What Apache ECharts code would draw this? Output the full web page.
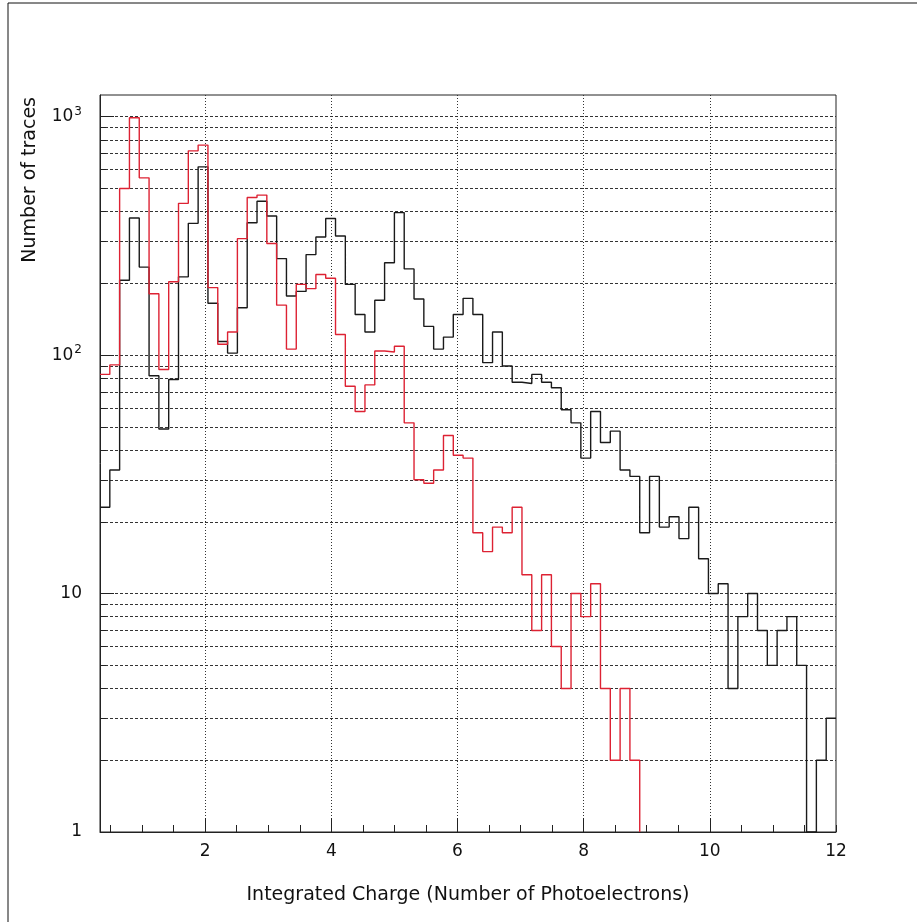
<!DOCTYPE html>
<html>
<head>
<meta charset="utf-8">
<script src="https://cdn.jsdelivr.net/npm/echarts@6/dist/echarts.min.js"></script>
<style>
  html, body { margin: 0; padding: 0; background: #fff; }
  #chart { width: 917px; height: 922px; }
</style>
</head>
<body>
<div id="chart"></div>
<script>
// 75 equal bins between xMin and xMax
const xMin = 0.3333
const xMax = 12

const blackCounts = [
  23, 33, 206, 376, 234, 82, 49, 79, 213, 357,
  616, 165, 114, 102, 158, 359, 442, 383, 254, 177,
  185, 264, 313, 374, 316, 198, 148, 125, 170, 244,
  396, 230, 172, 132, 106, 119, 148, 173, 148, 93,
  125, 90, 77, 76, 83, 77, 73, 59, 52, 37,
  58, 43, 48, 33, 31, 18, 31, 19, 21, 17,
  23, 14, 10, 11, 4, 8, 10, 7, 5, 7,
  8, 5, 0, 2, 3,
]

const redCounts = [
  83, 91, 500, 990, 554, 181, 87, 203, 433, 719,
  760, 192, 111, 125, 308, 458, 469, 294, 162, 106,
  198, 190, 218, 210, 122, 74, 58, 75, 104, 103,
  109, 52, 30, 29, 33, 46, 38, 37, 18, 15,
  19, 18, 23, 12, 7, 12, 6, 4, 10, 8,
  11, 4, 2, 4, 2, 0, 0, 0, 0, 0,
  0, 0, 0, 0, 0, 0, 0, 0, 0, 0,
  0, 0, 0, 0, 0,
]

const xMinorTicks = [0.5, 1, 1.5, 2, 2.5, 3, 3.5, 4, 4.5, 5, 5.5, 6, 6.5, 7, 7.5, 8, 8.5, 9, 9.5, 10, 10.5, 11, 11.5, 12]
const xMajorTicks = [2, 4, 6, 8, 10]
const xLabels = [2, 4, 6, 8, 10, 12]

const yGridValues = [
  2, 3, 4, 5, 6, 7, 8, 9, 10,
  20, 30, 40, 50, 60, 70, 80, 90, 100,
  200, 300, 400, 500, 600, 700, 800, 900, 1000,
]
const yMajorTicks = [10, 100, 1000]
const yLabels = [1, 10, 100, 1000]

const FONT = 'DejaVu Sans'

// turn bin contents into a stepped outline; empty bins sit on the axis floor,
// trailing empty bins are dropped after the last edge
function stepPoints(counts) {
  const w = (xMax - xMin) / counts.length
  let last = counts.length - 1
  while (last > 0 && counts[last] === 0) last--
  const pts = []
  for (let i = 0; i <= last; i++) {
    const v = Math.max(counts[i], 1)
    pts.push([xMin + i * w, v], [xMin + (i + 1) * w, v])
  }
  if (last < counts.length - 1) pts.push([xMin + (last + 1) * w, 1])
  return pts
}

const chart = echarts.init(document.getElementById('chart'), null, { renderer: 'canvas' })

chart.setOption({
  animation: false,
  backgroundColor: '#fff',
  grid: {
    left: 100,
    right: 81,
    top: 95,
    bottom: 90,
    show: true,
    borderColor: '#222',
    borderWidth: 1,
    backgroundColor: 'transparent',
  },
  graphic: [
    {
      type: 'rect',
      shape: { x: 8, y: 3, width: 1000, height: 1000 },
      style: { fill: 'none', stroke: '#111', lineWidth: 1 },
      silent: true,
    },
    {
      type: 'text',
      x: 30,
      y: 97,
      rotation: Math.PI / 2,
      style: {
        text: 'Number of traces',
        fontFamily: FONT,
        fontSize: 19,
        fill: '#111',
        align: 'right',
        verticalAlign: 'middle',
      },
    },
  ],
  xAxis: [
    {
      type: 'value',
      min: xMin,
      max: xMax,
      position: 'bottom',
      axisLine: { lineStyle: { color: '#222', width: 1 } },
      axisTick: { inside: true, length: 7, customValues: xMinorTicks, lineStyle: { color: '#222' } },
      axisLabel: { show: false },
      splitLine: { show: false },
    },
    {
      type: 'value',
      min: xMin,
      max: xMax,
      position: 'bottom',
      name: 'Integrated Charge (Number of Photoelectrons)',
      nameLocation: 'middle',
      nameGap: 54,
      nameTextStyle: { fontFamily: FONT, fontSize: 19, color: '#111' },
      axisLine: { show: false },
      axisTick: { inside: true, length: 14, customValues: xMajorTicks, lineStyle: { color: '#222' } },
      axisLabel: {
        customValues: xLabels,
        margin: 11,
        fontFamily: FONT,
        fontSize: 17,
        color: '#111',
      },
      splitLine: { show: true, lineStyle: { color: '#333', type: [1, 2], width: 1 } },
    },
  ],
  yAxis: [
    {
      type: 'log',
      logBase: 10,
      min: 1,
      max: 1233,
      position: 'left',
      axisLine: { show: true, lineStyle: { color: '#222', width: 1 } },
      axisTick: { inside: true, length: 6, customValues: yGridValues, lineStyle: { color: '#222' } },
      axisLabel: {
        customValues: yLabels,
        margin: 18,
        fontFamily: FONT,
        fontSize: 17,
        color: '#111',
        formatter: v => {
          if (v < 20) return String(Math.round(v))
          return '10{sup|' + Math.round(Math.log10(v)) + '}'
        },
        rich: {
          sup: { fontFamily: FONT, fontSize: 12, color: '#111', padding: [0, 0, 10, 1] },
        },
      },
      splitLine: { show: true, lineStyle: { color: '#333', type: [3, 2], width: 1 } },
    },
    {
      type: 'log',
      logBase: 10,
      min: 1,
      max: 1233,
      position: 'left',
      axisLine: { show: false },
      axisTick: { inside: true, length: 14, customValues: yMajorTicks, lineStyle: { color: '#222' } },
      axisLabel: { show: false },
      splitLine: { show: false },
    },
  ],
  series: [
    {
      name: 'black',
      type: 'line',
      xAxisIndex: 0,
      yAxisIndex: 0,
      data: stepPoints(blackCounts),
      showSymbol: false,
      symbol: 'none',
      lineStyle: { color: '#1a1a1a', width: 1.4 },
      z: 3,
    },
    {
      name: 'red',
      type: 'line',
      xAxisIndex: 0,
      yAxisIndex: 0,
      data: stepPoints(redCounts),
      showSymbol: false,
      symbol: 'none',
      lineStyle: { color: '#dd2233', width: 1.4 },
      z: 4,
    },
  ],
})
</script>
</body>
</html>
